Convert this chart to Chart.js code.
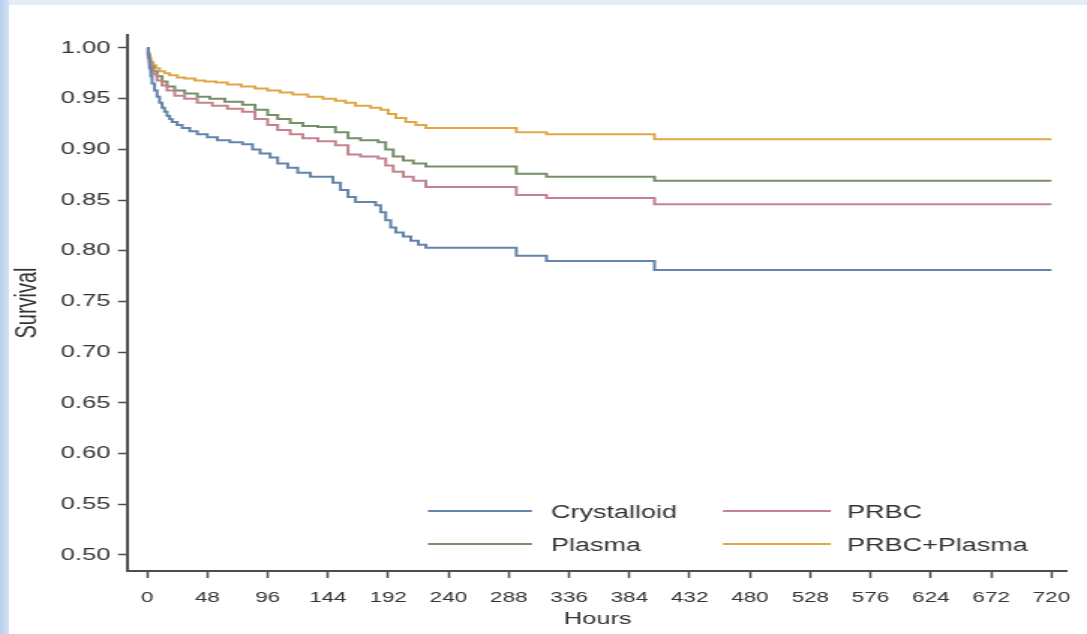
<!DOCTYPE html>
<html>
<head>
<meta charset="utf-8">
<title>Survival by resuscitation fluid</title>
<script src="https://cdn.jsdelivr.net/npm/chart.js@4.4.0/dist/chart.umd.min.js"></script>
<style>
    html, body {
        margin: 0;
        padding: 0;
        width: 1087px;
        height: 634px;
        overflow: hidden;
    }
    body {
        position: relative;
        background: linear-gradient(to right, #b7cfec 0px, #d5e3f4 9px, #e4ecf7 9px);
    }
    #panel {
        position: absolute;
        left: 9px;
        top: 5px;
        right: 0;
        bottom: 0;
        background: #ffffff;
    }
    /* the original figure is stretched sideways, so draw narrow and stretch */
    #chartBox {
        position: absolute;
        left: 0;
        top: 0;
        width: 725px;
        height: 634px;
        transform: scaleX(1.49931);
        transform-origin: 0 0;
    }
</style>
</head>
<body>
<div id="panel"></div>
<div id="chartBox">
    <canvas id="survivalChart" width="725" height="634"></canvas>
</div>
<script>
const seriesNames = ['Crystalloid', 'PRBC', 'Plasma', 'PRBC+Plasma'];
const seriesColors = ['#6484ab', '#c4828f', '#778f68', '#e2a646'];

const crystalloidHours = [0, 1, 2, 3, 4, 6, 8, 10, 12, 14, 16, 18, 20, 24, 28, 34, 40, 48, 56, 66, 76, 84, 90, 98, 104, 112, 120, 130, 148, 154, 160, 166, 182, 186, 190, 194, 198, 204, 210, 216, 222, 294, 318, 404, 720];
const crystalloidSurv = [1, 0.99, 0.98, 0.972, 0.965, 0.958, 0.952, 0.946, 0.941, 0.937, 0.933, 0.930, 0.927, 0.924, 0.921, 0.918, 0.915, 0.912, 0.909, 0.907, 0.905, 0.900, 0.896, 0.892, 0.886, 0.882, 0.877, 0.873, 0.867, 0.860, 0.853, 0.848, 0.845, 0.838, 0.830, 0.823, 0.818, 0.814, 0.810, 0.806, 0.803, 0.795, 0.790, 0.781, 0.781];

const prbcHours = [0, 1, 2, 3, 5, 8, 12, 16, 22, 30, 40, 52, 64, 76, 86, 96, 104, 114, 124, 136, 150, 160, 170, 184, 190, 196, 204, 212, 222, 294, 318, 404, 720];
const prbcSurv = [1, 0.992, 0.985, 0.979, 0.974, 0.968, 0.963, 0.958, 0.953, 0.950, 0.946, 0.943, 0.940, 0.937, 0.930, 0.924, 0.919, 0.915, 0.911, 0.908, 0.904, 0.895, 0.893, 0.891, 0.884, 0.878, 0.873, 0.869, 0.863, 0.855, 0.852, 0.846, 0.846];

const plasmaHours = [0, 1, 2, 3, 5, 8, 12, 16, 22, 30, 40, 50, 62, 76, 86, 96, 104, 114, 124, 136, 150, 160, 170, 184, 190, 196, 204, 212, 222, 294, 318, 404, 720];
const plasmaSurv = [1, 0.993, 0.987, 0.982, 0.977, 0.972, 0.967, 0.962, 0.958, 0.955, 0.952, 0.950, 0.947, 0.944, 0.939, 0.934, 0.930, 0.926, 0.923, 0.922, 0.917, 0.911, 0.909, 0.907, 0.900, 0.893, 0.889, 0.886, 0.883, 0.876, 0.873, 0.869, 0.869];

const bothHours = [0, 1, 2, 3, 5, 7, 10, 14, 18, 24, 30, 38, 46, 55, 64, 75, 86, 96, 106, 116, 128, 140, 150, 158, 166, 178, 186, 192, 198, 206, 214, 222, 294, 318, 404, 720];
const bothSurv = [1, 0.995, 0.990, 0.986, 0.983, 0.980, 0.977, 0.975, 0.973, 0.971, 0.970, 0.968, 0.967, 0.966, 0.964, 0.962, 0.960, 0.958, 0.956, 0.954, 0.952, 0.950, 0.948, 0.946, 0.943, 0.941, 0.939, 0.935, 0.931, 0.927, 0.924, 0.921, 0.917, 0.915, 0.910, 0.910];

const xTicks = [0, 48, 96, 144, 192, 240, 288, 336, 384, 432, 480, 528, 576, 624, 672, 720];
const yTicks = [0.50, 0.55, 0.60, 0.65, 0.70, 0.75, 0.80, 0.85, 0.90, 0.95, 1.00];

const FONT = '"Liberation Sans", Arial, Helvetica, sans-serif';
const AXIS_COLOR = '#4d4d4d';
const TEXT_COLOR = '#333333';

function toPoints(hours, surv) {
    return hours.map((h, i) => ({ x: h, y: surv[i] }));
}

const allSeries = [
    toPoints(crystalloidHours, crystalloidSurv),
    toPoints(prbcHours, prbcSurv),
    toPoints(plasmaHours, plasmaSurv),
    toPoints(bothHours, bothSurv)
];

// legend sits inside the plot, two columns by two rows
const insideLegend = {
    id: 'insideLegend',
    afterDraw(chart) {
        const ctx = chart.ctx;
        const cols = [
            { x0: 285.5, x1: 354.8, tx: 367.5 },
            { x0: 482.2, x1: 554.2, tx: 565.0 }
        ];
        const rows = [513, 546];
        ctx.save();
        ctx.font = '18px ' + FONT;
        ctx.textBaseline = 'middle';
        ctx.textAlign = 'left';
        chart.data.datasets.forEach((ds, i) => {
            const c = cols[i % 2];
            const y = rows[Math.floor(i / 2)];
            ctx.strokeStyle = ds.borderColor;
            ctx.lineWidth = 2;
            ctx.beginPath();
            ctx.moveTo(c.x0, y - 2);
            ctx.lineTo(c.x1, y - 2);
            ctx.stroke();
            ctx.fillStyle = TEXT_COLOR;
            ctx.fillText(ds.label, c.tx, y);
        });
        ctx.restore();
    }
};

const ctx = document.getElementById('survivalChart').getContext('2d');
const survivalChart = new Chart(ctx, {
    type: 'line',
    data: {
        datasets: seriesNames.map((name, i) => ({
            label: name,
            data: allSeries[i],
            borderColor: seriesColors[i],
            backgroundColor: seriesColors[i],
            borderWidth: 2,
            stepped: true,
            pointRadius: 0,
            fill: false
        }))
    },
    options: {
        responsive: false,
        animation: false,
        devicePixelRatio: 1,
        layout: {
            padding: { left: 0, top: 35, right: 12.7, bottom: 0 }
        },
        plugins: {
            legend: { display: false },
            tooltip: { enabled: false },
            title: { display: false }
        },
        scales: {
            x: {
                type: 'linear',
                min: -15.1,
                max: 732.7,
                afterFit: scale => { scale.height = 63; },
                afterBuildTicks: scale => { scale.ticks = xTicks.map(v => ({ value: v })); },
                grid: {
                    drawOnChartArea: false,
                    drawTicks: true,
                    tickLength: 7,
                    tickWidth: 1.5,
                    tickColor: AXIS_COLOR
                },
                border: { display: true, color: AXIS_COLOR, width: 2 },
                ticks: {
                    autoSkip: false,
                    maxRotation: 0,
                    padding: 11,
                    color: TEXT_COLOR,
                    font: { family: FONT, size: 15 },
                    callback: v => String(v)
                },
                title: {
                    display: true,
                    text: 'Hours',
                    color: TEXT_COLOR,
                    font: { family: FONT, size: 17 },
                    padding: { top: 0, bottom: 4 }
                }
            },
            y: {
                type: 'linear',
                min: 0.4842,
                max: 1.0128,
                afterFit: scale => { scale.width = 85.4; },
                afterBuildTicks: scale => { scale.ticks = yTicks.map(v => ({ value: v })); },
                grid: {
                    drawOnChartArea: false,
                    drawTicks: true,
                    tickLength: 6.7,
                    tickWidth: 1.5,
                    tickColor: AXIS_COLOR
                },
                border: { display: true, color: AXIS_COLOR, width: 2 },
                ticks: {
                    padding: 5,
                    color: TEXT_COLOR,
                    font: { family: FONT, size: 17 },
                    callback: v => v.toFixed(2)
                },
                title: {
                    display: true,
                    text: 'Survival',
                    color: TEXT_COLOR,
                    font: { family: FONT, size: 20 },
                    padding: { top: 6.5, bottom: 0 }
                }
            }
        }
    },
    plugins: [insideLegend]
});
</script>
</body>
</html>
